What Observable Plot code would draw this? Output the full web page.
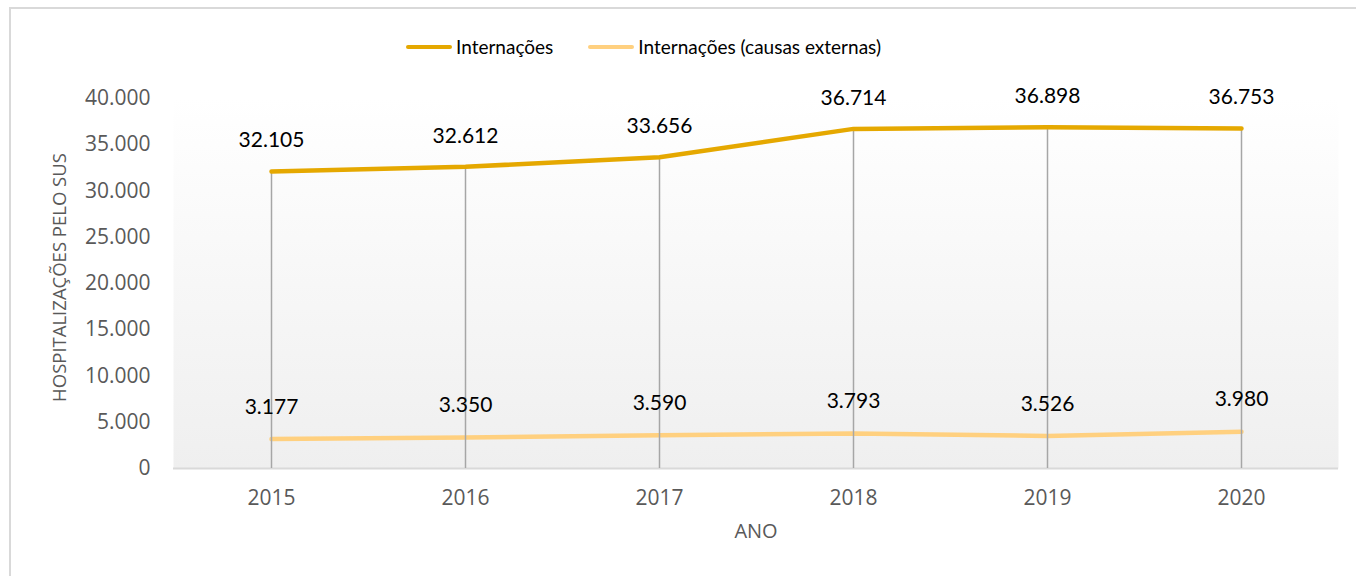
<!DOCTYPE html>
<html>
<head>
<meta charset="utf-8">
<script src="https://cdn.jsdelivr.net/npm/d3@7"></script>
<script src="https://cdn.jsdelivr.net/npm/@observablehq/plot@0.6"></script>
<style>
  html, body { margin: 0; padding: 0; background: #fff; overflow: hidden; }
  #wrap { position: relative; width: 1356px; height: 576px; }
  #border { position: absolute; left: 9px; top: 7px; width: 1400px; height: 600px; border: 2px solid #d9d9d9; box-sizing: border-box; }
  #legend { position: absolute; left: 406px; top: 35px; display: flex; align-items: center; font-family: Lato, "Open Sans", sans-serif; font-size: 19px; color: #000; white-space: nowrap; }
  .item { display: flex; align-items: center; margin-right: 35px; }
  .sw { display: inline-block; width: 46px; height: 4px; border-radius: 2px; margin-right: 4px; }
  #chart { position: absolute; left: 0; top: 0; }
</style>
</head>
<body>
<div id="wrap">
  <div id="border"></div>
  <div id="chart"></div>
  <div id="legend"></div>
</div>
<script>
const years = ["2015", "2016", "2017", "2018", "2019", "2020"];
const internacoes = [32105, 32612, 33656, 36714, 36898, 36753];
const externas = [3177, 3350, 3590, 3793, 3526, 3980];
const yTicks = [0, 5000, 10000, 15000, 20000, 25000, 30000, 35000, 40000];
const seriesNames = ["Internações", "Internações (causas externas)"];
const seriesColors = ["#e5a800", "#ffd07f"];

const fmt = v => d3.format(",")(v).replace(/,/g, ".");

const upper = years.map((y, i) => ({year: y, value: internacoes[i]}));
const lower = years.map((y, i) => ({year: y, value: externas[i]}));
const labelFont = "Lato, 'Open Sans', sans-serif";

const plot = Plot.plot({
  width: 1356,
  height: 576,
  marginLeft: 173,
  marginRight: 18,
  marginTop: 98,
  marginBottom: 108,
  style: {background: "transparent", overflow: "visible", fontFamily: "'Open Sans', sans-serif"},
  x: {type: "point", domain: years, padding: 0.5, label: null},
  y: {domain: [0, 40000], label: null},
  marks: [
    Plot.frame({fill: "url(#bggrad)", stroke: null}),
    Plot.ruleY([0], {stroke: "#d9d9d9", strokeWidth: 2}),
    Plot.lineY(lower, {x: "year", y: "value", stroke: seriesColors[1], strokeWidth: 4.5}),
    Plot.ruleX(upper, {x: "year", y1: 0, y2: "value", stroke: "#a6a6a6", strokeWidth: 1.5}),
    Plot.lineY(upper, {x: "year", y: "value", stroke: seriesColors[0], strokeWidth: 4.5}),
    Plot.text(upper, {x: "year", y: "value", text: d => fmt(d.value), dy: -31, fill: "#000", fontSize: 21, fontFamily: labelFont}),
    Plot.text(lower, {x: "year", y: "value", text: d => fmt(d.value), dy: -32, fill: "#000", fontSize: 21, fontFamily: labelFont}),
    Plot.axisY({ticks: yTicks, tickFormat: fmt, tickSize: 0, tickPadding: 23, fontSize: 21, fill: "#595959", label: null}),
    Plot.axisX({tickSize: 0, tickPadding: 22, fontSize: 21, fill: "#595959", label: null}),
    Plot.text(["ANO"], {frameAnchor: "bottom", dy: 69, fontSize: 20, fill: "#595959"}),
    Plot.text(["HOSPITALIZAÇÕES PELO SUS"], {frameAnchor: "left", textAnchor: "middle", dx: -113, dy: -6, rotate: -90, fontSize: 18.5, fill: "#595959"})
  ]
});

// gradient definition for the plot-area background
const ns = "http://www.w3.org/2000/svg";
const defs = document.createElementNS(ns, "defs");
defs.innerHTML = '<linearGradient id="bggrad" x1="0" y1="0" x2="0" y2="1"><stop offset="0" stop-color="#ffffff"/><stop offset="1" stop-color="#efefef"/></linearGradient>';
plot.insertBefore(defs, plot.firstChild);
document.getElementById("chart").appendChild(plot);

const legend = document.getElementById("legend");
seriesNames.forEach((name, i) => {
  const item = document.createElement("div");
  item.className = "item";
  const sw = document.createElement("span");
  sw.className = "sw";
  sw.style.background = seriesColors[i];
  const t = document.createElement("span");
  t.textContent = name;
  item.appendChild(sw);
  item.appendChild(t);
  legend.appendChild(item);
});
</script>
</body>
</html>
